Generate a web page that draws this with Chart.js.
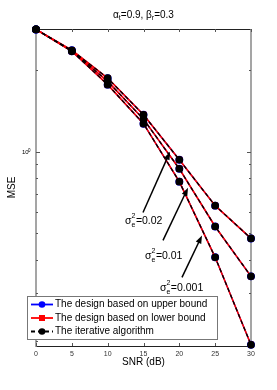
<!DOCTYPE html>
<html>
<head>
<meta charset="utf-8">
<script src="https://cdn.jsdelivr.net/npm/chart.js@4.4.1/dist/chart.umd.min.js"></script>
<style>
  html, body { margin: 0; padding: 0; background: #fff; }
  #wrap { width: 277px; height: 390px; }
</style>
</head>
<body>
<div id="wrap"><canvas id="mseChart" width="277" height="390"></canvas></div>
<script>
// SNR in dB
const snr = [0, 5, 10, 15, 20, 25, 30];
// MSE per channel error variance (the three designs overlap almost exactly)
const mse002 = [2.83, 2.37, 1.87, 1.37, 0.935, 0.633, 0.479];
const mse001 = [2.83, 2.36, 1.82, 1.32, 0.866, 0.530, 0.347];
const mse0001 = [2.83, 2.35, 1.77, 1.27, 0.776, 0.408, 0.194];
const xTicks = [0, 5, 10, 15, 20, 25, 30];
const yTicks = [0.2, 0.3, 0.4, 0.5, 0.6, 0.7, 0.8, 0.9, 1, 2];
const legendLabels = ['The design based on upper bound', 'The design based on lower bound', 'The iterative algorithm'];
// arrow notes: [label, tail x, tail y, head x, head y, text x, text y]
const notes = [
  ['0.02', 14.93, 0.597, 18.70, 1.0, 12.42, 0.553],
  ['0.01', 17.72, 0.471, 21.21, 0.737, 15.21, 0.411],
  ['0.001', 20.37, 0.344, 23.16, 0.491, 17.30, 0.313]
];

const FONT = '"Liberation Sans", Arial, sans-serif';
const groups = [mse002, mse001, mse0001];

function pts(arr) {
  return snr.map((s, i) => ({x: s, y: arr[i]}));
}

const datasets = [];
groups.forEach(g => {
  datasets.push({
    label: legendLabels[2], data: pts(g), order: 0,
    borderColor: '#000', borderWidth: 1.3, borderDash: [4, 3],
    pointStyle: 'circle', pointRadius: 3.2, pointBackgroundColor: '#000', pointBorderColor: '#000',
    clip: false
  });
  datasets.push({
    label: legendLabels[1], data: pts(g), order: 1,
    borderColor: '#ff0000', borderWidth: 1.6,
    pointStyle: 'rect', pointRadius: 3, pointBackgroundColor: '#ff0000', pointBorderColor: '#ff0000',
    clip: false
  });
  datasets.push({
    label: legendLabels[0], data: pts(g), order: 2,
    borderColor: '#0000ff', borderWidth: 1.3,
    pointStyle: 'circle', pointRadius: 3.3, pointBackgroundColor: '#0000ff', pointBorderColor: '#0000ff',
    clip: false
  });
});

const framePlugin = {
  id: 'frame',
  beforeDatasetsDraw(chart) {
    const {ctx, chartArea: a, scales} = chart;
    ctx.save();
    ctx.strokeStyle = '#222';
    ctx.lineWidth = 1;
    ctx.beginPath();
    ctx.moveTo(a.left, a.top + 0.5); ctx.lineTo(a.right, a.top + 0.5);
    ctx.moveTo(a.left, a.bottom + 0.5); ctx.lineTo(a.right, a.bottom + 0.5);
    ctx.stroke();
    ctx.strokeStyle = '#888';
    ctx.lineWidth = 1.5;
    ctx.beginPath();
    ctx.moveTo(a.left, a.top); ctx.lineTo(a.left, a.bottom + 1);
    ctx.moveTo(a.right, a.top); ctx.lineTo(a.right, a.bottom + 1);
    ctx.stroke();
    // inward ticks
    ctx.strokeStyle = '#555';
    ctx.lineWidth = 1;
    ctx.beginPath();
    xTicks.forEach(v => {
      const px = Math.round(scales.x.getPixelForValue(v)) + 0.5;
      ctx.moveTo(px, a.bottom); ctx.lineTo(px, a.bottom - 3);
      ctx.moveTo(px, a.top); ctx.lineTo(px, a.top + 3);
    });
    yTicks.forEach(v => {
      const py = Math.round(scales.y.getPixelForValue(v)) + 0.5;
      const len = v === 1 ? 4 : 2;
      ctx.moveTo(a.left, py); ctx.lineTo(a.left + len, py);
      ctx.moveTo(a.right, py); ctx.lineTo(a.right - len, py);
    });
    ctx.stroke();
    ctx.restore();
  },
  afterDraw(chart) {
    const {ctx, chartArea: a, scales} = chart;
    ctx.save();
    ctx.fillStyle = '#000';
    // title
    const parts = [['α', 10, 0], ['t', 7, 3], ['=0.9, β', 10, 0], ['r', 7, 3], ['=0.3', 10, 0]];
    let w = 0;
    parts.forEach(p => { ctx.font = p[1] + 'px ' + FONT; w += ctx.measureText(p[0]).width; });
    let tx = (a.left + a.right) / 2 - w / 2;
    ctx.textBaseline = 'middle';
    ctx.textAlign = 'left';
    parts.forEach(p => {
      ctx.font = p[1] + 'px ' + FONT;
      ctx.fillText(p[0], tx, 15 + p[2]);
      tx += ctx.measureText(p[0]).width;
    });
    // y tick label 10^0
    const y1 = scales.y.getPixelForValue(1);
    ctx.font = '6px ' + FONT;
    ctx.fillText('10', 22, y1 + 1);
    ctx.font = '4.5px ' + FONT;
    ctx.fillText('0', 28, y1 - 1.5);

    // arrow notes
    notes.forEach(n => {
      const x0 = scales.x.getPixelForValue(n[1]), y0 = scales.y.getPixelForValue(n[2]);
      const x1 = scales.x.getPixelForValue(n[3]), y1p = scales.y.getPixelForValue(n[4]);
      const ang = Math.atan2(y1p - y0, x1 - x0);
      ctx.strokeStyle = '#000';
      ctx.lineWidth = 1.5;
      ctx.beginPath();
      ctx.moveTo(x0, y0);
      ctx.lineTo(x1 - 5 * Math.cos(ang), y1p - 5 * Math.sin(ang));
      ctx.stroke();
      ctx.beginPath();
      ctx.moveTo(x1, y1p);
      ctx.lineTo(x1 - 8 * Math.cos(ang) + 3 * Math.sin(ang), y1p - 8 * Math.sin(ang) - 3 * Math.cos(ang));
      ctx.lineTo(x1 - 8 * Math.cos(ang) - 3 * Math.sin(ang), y1p - 8 * Math.sin(ang) + 3 * Math.cos(ang));
      ctx.closePath();
      ctx.fill();
      // label sigma_e^2 = value
      let lx = scales.x.getPixelForValue(n[5]);
      const ly = scales.y.getPixelForValue(n[6]);
      ctx.font = '10.5px ' + FONT;
      ctx.textBaseline = 'middle';
      ctx.fillText('σ', lx, ly);
      lx += ctx.measureText('σ').width;
      ctx.font = '7px ' + FONT;
      ctx.fillText('2', lx, ly - 5);
      ctx.fillText('e', lx, ly + 4);
      lx += ctx.measureText('e').width + 0.5;
      ctx.font = '10.5px ' + FONT;
      ctx.fillText('=' + n[0], lx, ly);
    });

    // legend box
    const bx = 27, by = 296, bw = 190, bh = 43;
    ctx.fillStyle = '#fff';
    ctx.fillRect(bx, by, bw, bh);
    ctx.strokeStyle = '#777';
    ctx.lineWidth = 1;
    ctx.strokeRect(bx + 0.5, by + 0.5, bw, bh);
    const rows = [
      {c: '#0000ff', dash: [], m: 'circle'},
      {c: '#ff0000', dash: [], m: 'rect'},
      {c: '#000', dash: [4, 3], m: 'circle'}
    ];
    rows.forEach((r, i) => {
      const ry = by + 8.5 + i * 13.5;
      ctx.strokeStyle = r.c;
      ctx.fillStyle = r.c;
      ctx.lineWidth = 1.8;
      ctx.setLineDash(r.dash);
      ctx.beginPath();
      ctx.moveTo(31, ry); ctx.lineTo(53, ry);
      ctx.stroke();
      ctx.setLineDash([]);
      if (r.m === 'circle') {
        ctx.beginPath(); ctx.arc(42, ry, 3.3, 0, Math.PI * 2); ctx.fill();
      } else {
        ctx.fillRect(39, ry - 3, 6, 6);
      }
      ctx.fillStyle = '#000';
      ctx.font = '10px ' + FONT;
      ctx.textBaseline = 'middle';
      ctx.fillText(legendLabels[i], 55, ry);
    });
    ctx.restore();
  }
};

new Chart(document.getElementById('mseChart'), {
  type: 'line',
  data: { datasets: datasets },
  options: {
    responsive: false,
    animation: false,
    layout: { padding: { top: 29, left: 0, right: 0, bottom: 0 } },
    plugins: {
      legend: { display: false },
      title: { display: false },
      tooltip: { enabled: false }
    },
    scales: {
      x: {
        type: 'linear', min: 0, max: 30,
        afterBuildTicks: s => { s.ticks = xTicks.map(v => ({value: v})); },
        afterFit: s => { s.height = 44; },
        grid: { display: false, drawTicks: false },
        border: { display: false },
        ticks: { color: '#333', font: { family: FONT, size: 7 }, padding: 3.5, maxRotation: 0 },
        title: { display: true, text: 'SNR (dB)', color: '#000', font: { family: FONT, size: 10 }, padding: { top: 0, bottom: 21.6 } }
      },
      y: {
        type: 'logarithmic', min: 0.192, max: 2.84,
        afterBuildTicks: s => { s.ticks = yTicks.map(v => ({value: v})); },
        afterFit: s => { s.width = 36; },
        grid: { display: false, drawTicks: false },
        border: { display: false },
        ticks: { display: false },
        title: { display: true, text: 'MSE', color: '#000', font: { family: FONT, size: 10 }, padding: { top: 6.6, bottom: 0 } }
      },
      y2: {
        type: 'logarithmic', position: 'right', min: 0.192, max: 2.84,
        afterFit: s => { s.width = 26; },
        grid: { display: false, drawTicks: false },
        border: { display: false },
        ticks: { display: false }
      }
    }
  },
  plugins: [framePlugin]
});
</script>
</body>
</html>
